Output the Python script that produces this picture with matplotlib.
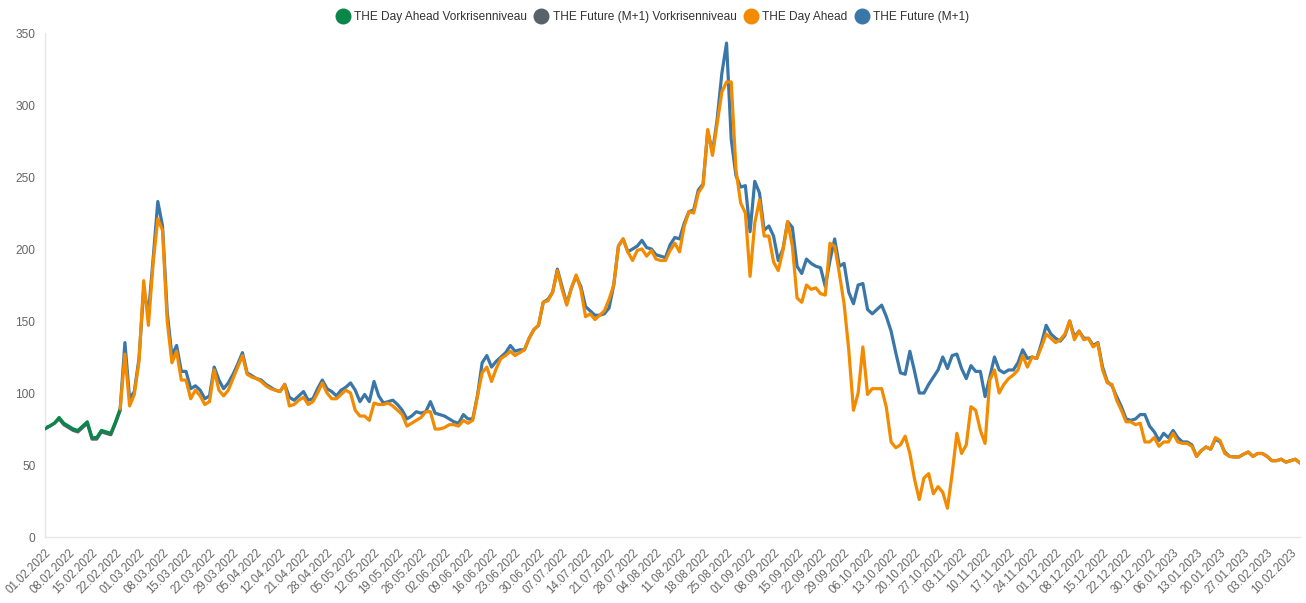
import matplotlib
matplotlib.use("Agg")
import matplotlib.pyplot as plt
import numpy as np
from matplotlib.lines import Line2D

# ---------------- data ----------------
tick_labels = [
    "01.02.2022", "08.02.2022", "15.02.2022", "22.02.2022", "01.03.2022", "08.03.2022",
    "15.03.2022", "22.03.2022", "29.03.2022", "05.04.2022", "12.04.2022", "21.04.2022",
    "28.04.2022", "05.05.2022", "12.05.2022", "19.05.2022", "26.05.2022", "02.06.2022",
    "09.06.2022", "16.06.2022", "23.06.2022", "30.06.2022", "07.07.2022", "14.07.2022",
    "21.07.2022", "28.07.2022", "04.08.2022", "11.08.2022", "18.08.2022", "25.08.2022",
    "01.09.2022", "08.09.2022", "15.09.2022", "22.09.2022", "29.09.2022", "06.10.2022",
    "13.10.2022", "20.10.2022", "27.10.2022", "03.11.2022", "10.11.2022", "17.11.2022",
    "24.11.2022", "01.12.2022", "08.12.2022", "15.12.2022", "22.12.2022", "30.12.2022",
    "06.01.2023", "13.01.2023", "20.01.2023", "27.01.2023", "03.02.2023", "10.02.2023",
]

series_names = ["THE Day Ahead Vorkrisenniveau", "THE Future (M+1) Vorkrisenniveau",
                "THE Day Ahead", "THE Future (M+1)"]

# pre-crisis level (trading days 0..16)
day_ahead_pre = [75, 77, 79, 83, 79, 77, 75, 74, 77, 80, 69, 69, 74, 73, 72, 80, 89]
future_pre = [76, 77, 79, 82, 78, 76, 74, 73, 76, 79, 68, 68, 73, 72, 71, 79, 88]

# from trading day 16 onwards
day_ahead = [
    89, 127, 91, 99, 122, 178, 147, 190, 221, 213,
    150, 121, 129, 109, 109, 96, 102, 98, 92, 94,
    116, 102, 98, 102, 110, 118, 126, 113, 111, 110,
    108, 105, 103, 102, 101, 106, 91, 92, 95, 97,
    92, 94, 100, 107, 100, 96, 96, 99, 102, 100,
    88, 84, 84, 81, 93, 92, 92, 93, 91, 88,
    85, 77, 79, 81, 83, 87, 87, 75, 75, 76,
    78, 78, 77, 81, 79, 81, 98, 114, 118, 108,
    117, 124, 126, 129, 126, 128, 130, 138, 144, 147,
    163, 164, 170, 185, 172, 161, 173, 182, 172, 153,
    155, 151, 154, 157, 165, 175, 202, 207, 198, 192,
    199, 200, 195, 199, 193, 192, 192, 199, 204, 198,
    216, 226, 225, 239, 244, 283, 265, 287, 309, 316,
    316, 255, 232, 225, 181, 218, 234, 209, 209, 191,
    185, 199, 219, 202, 166, 163, 175, 172, 173, 169,
    168, 204, 202, 183, 162, 130, 88, 100, 132, 99,
    103, 103, 103, 90, 66, 62, 64, 70, 58, 40,
    26, 41, 44, 30, 35, 31, 20, 44, 72,
    58, 64, 90.5, 88, 74, 65, 109, 116, 100, 106,
    110, 112.5, 116, 126, 118, 125, 124, 132, 141, 138,
    135, 137, 141, 150, 137, 143, 137, 138, 132, 134.5,
    116, 107, 106, 95, 88, 80, 80, 78, 79, 66,
    66, 69, 63, 66, 66, 72, 66, 65, 65, 63,
    56, 60, 62.5, 61, 69, 67, 58, 56, 55.6, 55.6,
    57.5, 59, 56, 58, 58, 56, 53, 53, 54, 52,
    53, 54, 51.4,
]
future = [
    89, 135, 96, 101, 124, 172, 155, 193, 233, 216,
    156, 126, 133, 115, 115, 103, 105, 102, 96, 98,
    118, 109, 103, 107, 113, 120, 128, 114, 112, 110,
    109, 106, 104, 102, 101, 106, 97, 95, 98, 101,
    95, 96, 103, 109, 103, 101, 98, 102, 104, 107,
    102, 94, 99, 94, 108, 98, 93, 94, 95, 92,
    88, 82, 84, 87, 86, 87, 94, 86, 85, 84,
    82, 80, 79, 85, 82, 82, 98, 121, 126, 118,
    122, 125, 128, 133, 129, 130, 130, 138, 144, 147,
    163, 165, 170, 186, 174, 162, 173, 181, 174, 160,
    157, 154, 154, 155, 159, 175, 202, 207, 198, 200,
    202, 206, 201, 200, 196, 195, 194, 203, 208, 207,
    218, 226, 227, 241, 245, 282, 267, 290, 322, 343,
    276, 251, 243, 244, 212, 247, 239, 213, 216, 209,
    192, 200, 219, 215, 188, 183, 193, 190, 188, 187,
    174, 192, 207, 188, 190, 170, 162, 175, 176, 158,
    155, 158, 161, 153, 143, 128, 114, 113, 129, 115,
    100, 100, 106, 111, 116, 125, 117, 126, 127,
    117, 110, 119, 115, 115, 97.5, 111, 125, 116, 114,
    116, 116, 121, 130, 124, 125, 124, 134.5, 147, 141,
    138, 136, 140, 150, 139, 143, 138, 138, 133, 135,
    118, 108, 105, 97.5, 90.5, 82, 81, 82, 85, 85,
    77, 73, 67, 72, 69, 74, 69, 66, 66, 64,
    56, 60, 62.5, 61, 68, 66, 59, 56, 55.6, 55.6,
    57.5, 59, 56, 58, 58, 56, 53, 53, 54, 52,
    53, 54, 51.4,
]

# ---------------- style ----------------
plt.rcParams["font.family"] = ["Liberation Sans", "DejaVu Sans"]
c_green = "#0a8648"
c_gray = "#56636d"
c_orange = "#f28b00"
c_blue = "#3a77a8"
colors = [c_green, c_gray, c_orange, c_blue]

W, H = 1306, 603
fig = plt.figure(figsize=(W / 100, H / 100), dpi=100)
ax = fig.add_axes([45 / W, 1 - 537 / H, (1300 - 45) / W, (537 - 33) / H])

x_pre = np.arange(len(day_ahead_pre))
start = len(day_ahead_pre) - 1
x_main = np.arange(start, start + len(day_ahead))
x_fut = np.arange(start, start + len(future))

kw = dict(lw=2.3, solid_joinstyle="round", solid_capstyle="round")
ax.plot(x_pre, future_pre, color=c_gray, zorder=2, **kw)
ax.plot(x_pre, day_ahead_pre, color=c_green, zorder=3, **kw)
ax.plot(x_fut, future, color=c_blue, zorder=4, **kw)
ax.plot(x_main, day_ahead, color=c_orange, zorder=5, **kw)

ax.set_xlim(0, 267)
ax.set_ylim(0, 350)
ax.set_yticks(np.arange(0, 351, 50))
ax.set_xticks(np.arange(0, 5 * len(tick_labels), 5))
ax.set_xticklabels(tick_labels, rotation=45, ha="right", va="top",
                   rotation_mode="anchor", fontsize=8.3, color="#666666")
ax.tick_params(axis="both", length=0)
ax.tick_params(axis="y", labelsize=8.6, labelcolor="#666666", pad=7)
ax.tick_params(axis="x", pad=7)

for s in ["top", "right"]:
    ax.spines[s].set_visible(False)
for s in ["left", "bottom"]:
    ax.spines[s].set_color("#e6e6e6")
    ax.spines[s].set_linewidth(1)

handles = [Line2D([], [], marker="o", ls="", color=c, markersize=10.5) for c in colors]
fig.legend(handles, series_names, loc="center", bbox_to_anchor=(0.5, 1 - 17 / H),
           ncol=4, frameon=False, fontsize=8.6, handletextpad=0.45,
           columnspacing=0.7, handlelength=1.0, labelcolor="#333333")

fig.savefig("out.png", dpi=100)
